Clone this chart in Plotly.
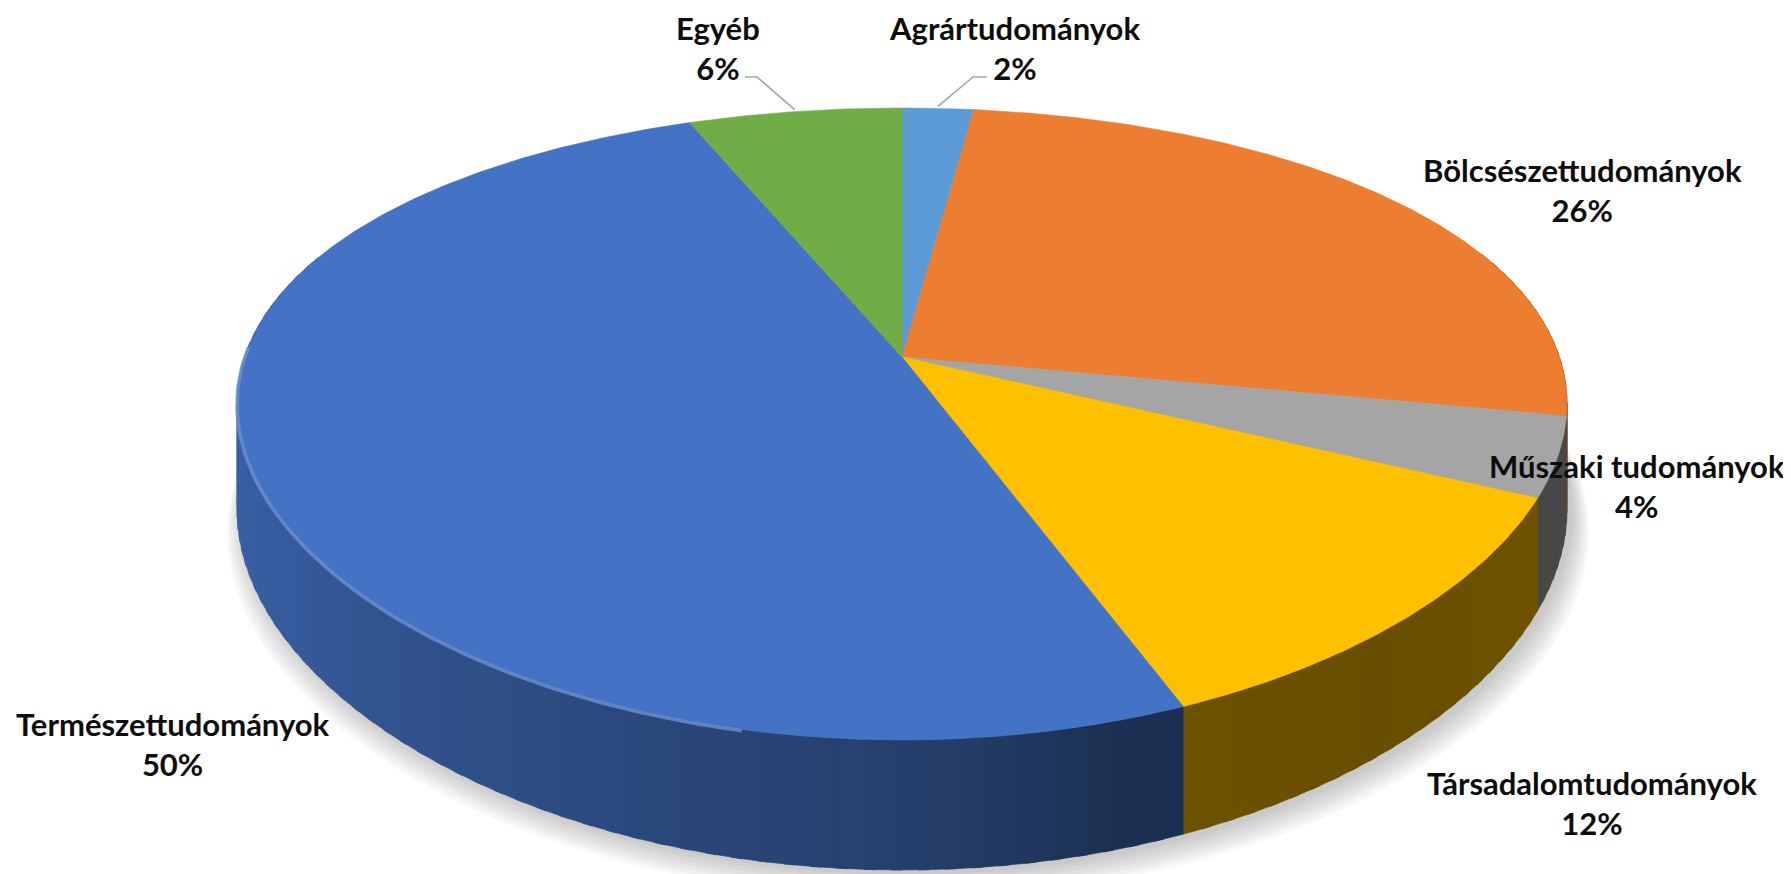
import numpy as np
import plotly.graph_objects as go

# ---------------- data ----------------
categories = ["Agrártudományok", "Bölcsészettudományok", "Műszaki tudományok",
              "Társadalomtudományok", "Természettudományok", "Egyéb"]
values = [2, 26, 4, 12, 50, 6]
colors = ["#5B9BD5", "#ED7D31", "#A5A5A5", "#FFC000", "#4472C4", "#70AD47"]

# ---------------- layout / projection (style, not data) ----------------
W, H = 1791, 874
PAD = 8                      # default page margin of the html body
CX, CY = 902, 357            # pie centre on screen
A, B = 657.5, 301.8          # half-axes
KX, KY = 0.15, 0.212         # perspective factors
D0 = 102.5                   # pie thickness

label_pos = {                # label anchor (x, y) in page pixels
    "Agrártudományok": (1014, 48),
    "Bölcsészettudományok": (1582, 190),
    "Műszaki tudományok": (1637, 486),
    "Társadalomtudományok": (1592, 803),
    "Természettudományok": (173, 744),
    "Egyéb": (718, 48),
}
leaders = {"Egyéb": (745, 757, 77), "Agrártudományok": (987, 973, 77)}


def proj(theta_deg, depth=0.0):
    t = np.radians(np.asarray(theta_deg, dtype=float))
    u, v = np.sin(t), np.cos(t)
    sx = 1.0 / (1.0 + KX * v)
    sy = 1.0 / (1.0 + KY * v)
    return CX + A * u * sx, CY - B * v * sy + depth * sy


def hex_rgb(h):
    h = h.lstrip("#")
    return [int(h[i:i + 2], 16) for i in (0, 2, 4)]


def shade(h, f):
    r, g, b = hex_rgb(h)
    return "rgb(%d,%d,%d)" % (min(255, r * f), min(255, g * f), min(255, b * f))


def mix(h, f):
    r, g, b = hex_rgb(h)
    return "rgb(%d,%d,%d)" % (r + (255 - r) * f, g + (255 - g) * f, b + (255 - b) * f)


def light(theta):
    return float(np.interp(theta, [0, 90, 110, 140, 165, 180, 200, 240, 270, 300, 360],
                           [0.45, 0.45, 0.44, 0.41, 0.43, 0.56, 0.64, 0.80, 0.88, 0.9, 0.9]))


total = float(sum(values))
bounds = np.concatenate([[0], np.cumsum(values)]) / total * 360.0

fig = go.Figure()

# soft shadow under the pie
th = np.linspace(0, 360, 241)
for i in range(7):
    sx, sy = proj(th, D0 + 4 + i * 3)
    sx = CX + (sx - CX) * (1.0 + 0.004 * i) + 6
    fig.add_trace(go.Scatter(x=sx, y=sy, fill="toself", mode="lines",
                             line=dict(width=0), fillcolor="rgba(0,0,0,0.03)",
                             hoverinfo="skip", showlegend=False))

# side walls (segments, drawn back to front)
segs = []
for i, (cat, col) in enumerate(zip(categories, colors)):
    a0, a1 = bounds[i], bounds[i + 1]
    n = max(1, int(np.ceil((a1 - a0) / 2.0)))
    edges = np.linspace(a0, a1, n + 1)
    for j in range(n):
        t0, t1 = edges[j], edges[j + 1]
        mid = 0.5 * (t0 + t1)
        if np.cos(np.radians(mid)) > 0.35:
            continue
        tt = np.linspace(max(a0, t0 - 0.4), min(a1, t1 + 0.4), 4)
        xt, yt = proj(tt)
        xb, yb = proj(tt[::-1], D0)
        c = shade(col, light(mid))
        segs.append((np.cos(np.radians(mid)),
                     np.concatenate([xt, xb, xt[:1]]),
                     np.concatenate([yt, yb, yt[:1]]), c))
segs.sort(key=lambda s: -s[0])
for _, x, y, c in segs:
    fig.add_trace(go.Scatter(x=x, y=y, fill="toself", mode="lines",
                             line=dict(width=0.6, color=c), fillcolor=c,
                             hoverinfo="skip", showlegend=False))

# top faces
for i, (cat, col) in enumerate(zip(categories, colors)):
    a0, a1 = bounds[i], bounds[i + 1]
    tt = np.linspace(a0, a1, max(3, int((a1 - a0) * 2)))
    x, y = proj(tt)
    fig.add_trace(go.Scatter(x=np.concatenate([[CX], x, [CX]]),
                             y=np.concatenate([[CY], y, [CY]]),
                             fill="toself", mode="lines",
                             line=dict(width=0.6, color=col), fillcolor=col,
                             name=cat, hoverinfo="skip", showlegend=False))
    # rim highlight on the lit (left-front) part
    lo, hi = max(a0, 192), min(a1, 272)
    if hi > lo:
        tt = np.linspace(lo, hi, 80)
        x, y = proj(tt, 1)
        fig.add_trace(go.Scatter(x=x, y=y, mode="lines",
                                 line=dict(width=3.5, color=mix(col, 0.22)),
                                 opacity=0.8, hoverinfo="skip", showlegend=False))

# labels and leader lines
for i, (cat, val) in enumerate(zip(categories, values)):
    lx, ly = label_pos[cat]
    fig.add_annotation(x=lx, y=ly, xref="x", yref="y", showarrow=False,
                       text="<b>%s<br>%d%%</b>" % (cat, val),
                       font=dict(family="Lato, Carlito, Calibri, sans-serif", size=31,
                                 color="#0d0d0d"),
                       borderpad=0,
                       xanchor="center", yanchor="middle", align="center")
    if cat in leaders:
        x0, x1, yl = leaders[cat]
        mid = 0.5 * (bounds[i] + bounds[i + 1])
        ex, ey = proj(mid)
        fig.add_trace(go.Scatter(x=[x0, x1, float(ex)], y=[yl, yl, float(ey) - 2],
                                 mode="lines", line=dict(width=1.6, color="#A6A6A6"),
                                 hoverinfo="skip", showlegend=False))

fig.update_layout(
    width=W - PAD, height=H - PAD, margin=dict(l=0, r=0, t=0, b=0),
    paper_bgcolor="white", plot_bgcolor="white", showlegend=False,
    xaxis=dict(range=[PAD, W], visible=False, fixedrange=True),
    yaxis=dict(range=[H, PAD], visible=False, fixedrange=True),
)
fig.write_html("out.html")
